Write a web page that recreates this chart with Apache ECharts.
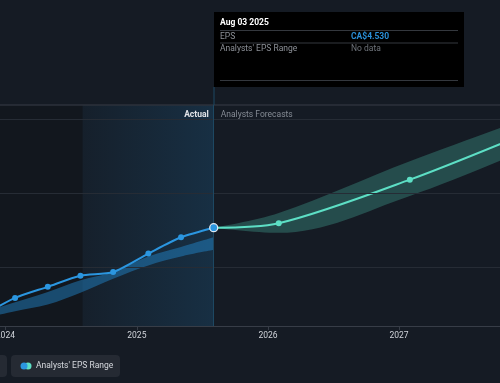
<!DOCTYPE html>
<html><head><meta charset="utf-8">
<script src="https://cdn.jsdelivr.net/npm/echarts@6/dist/echarts.min.js"></script>
<style>html,body{margin:0;padding:0;background:#151b24;overflow:hidden}#c{width:500px;height:383px}</style>
</head><body><div id="c"></div>
<script>
// ---- data ----
const pastDates = ['2023-10-29','2024-01-28','2024-04-28','2024-07-28','2024-10-27','2025-02-02','2025-05-04','2025-08-03'];
const pastEps = [3.34,3.58,3.73,3.88,3.93,4.18,4.40,4.53];
const pastRangeLow = [3.30,3.40,3.49,3.65,3.84,4.02,4.14,4.23];
const pastRangeHigh = [3.38,3.52,3.66,3.82,3.93,4.14,4.27,4.40];
const fcDates = ['2025-08-03','2026-01-31','2027-01-31','2028-01-31'];
const fcEps = [4.53,4.59,5.18,5.89];
const fcLow = [4.53,4.46,4.96,5.67];
const fcHigh = [4.53,4.73,5.43,6.08];
const gridValues = [4,5,6];
const axisMin = '2023-12-17', axisMax = '2027-10-09';
const yMin = 3.2, yMax = 6.19;
const todayDate = '2025-08-03', yearAgoDate = '2024-08-03';
const tipTitle = 'Aug 03 2025', tipEpsLabel = 'EPS', tipEpsValue = 'CA$4.530';
const tipRangeLabel = "Analysts' EPS Range", tipRangeValue = 'No data';
const legendLabel = "Analysts' EPS Range";

const BLUE = '#2b96e0', TEAL = '#5ddfc5', FONT = 'Roboto, sans-serif';
const FS = 8.5;
const chart = echarts.init(document.getElementById('c'), null, {renderer:'canvas'});

const pair = (d, v) => d.map((x, i) => [x, v[i]]);
const diff = (a, b) => a.map((x, i) => +(x - b[i]).toFixed(3));

const pastLine = pastDates.map((d, i) => {
  const last = i === pastDates.length - 1;
  return last ? {value:[d, pastEps[i]], symbolSize:8, itemStyle:{color:BLUE, borderColor:'#dfe8f0', borderWidth:1.3}} : {value:[d, pastEps[i]]};
});
const fcLine = fcDates.map((d, i) => i === 0 ? {value:[d, fcEps[i]], symbolSize:0} : {value:[d, fcEps[i]]});

const option = {
  backgroundColor: '#151b24',
  animation: false,
  grid: {left:0, right:0, top:105, bottom:57, containLabel:false, outerBoundsMode:'none'},
  xAxis: {
    type:'time', min:axisMin, max:axisMax, splitNumber:4,
    axisLine:{show:true, lineStyle:{color:'#373d47', width:1}},
    axisTick:{show:true, length:4, lineStyle:{color:'#373d47'}},
    splitLine:{show:false},
    axisLabel:{color:'#d0d4da', fontSize:FS, fontFamily:FONT, margin:5, hideOverlap:false,
      formatter: v => { const d = new Date(v); return (d.getMonth()===0 && d.getDate()===1) ? String(d.getFullYear()) : ''; }}
  },
  yAxis: {type:'value', min:yMin, max:yMax, show:false, splitLine:{show:false}},
  series: [
    { name:'pastLow', type:'line', stack:'past', data:pair(pastDates, pastRangeLow), smooth:0.35,
      symbol:'none', lineStyle:{opacity:0}, silent:true, z:2,
      markArea:{silent:true, data:[
        [{xAxis:axisMin, itemStyle:{color:'rgba(0,0,0,0.14)'}}, {xAxis:yearAgoDate}],
        [{xAxis:yearAgoDate, itemStyle:{color:new echarts.graphic.LinearGradient(0,0,1,0,[{offset:0,color:'rgba(35,148,223,0.04)'},{offset:1,color:'rgba(35,148,223,0.17)'}])},
          label:{show:true, formatter:'Actual', position:'insideTopRight', distance:5, color:'#e2e4e8', fontWeight:'bold', fontSize:FS, fontFamily:FONT}},
         {xAxis:todayDate}],
        [{xAxis:todayDate, itemStyle:{color:'rgba(0,0,0,0)'},
          label:{show:true, formatter:'Analysts Forecasts', position:'insideTopLeft', distance:5, color:'#858b94', fontSize:FS, fontFamily:FONT,
            padding:[0,0,0,2]}},
         {xAxis:axisMax}]
      ]},
      markLine:{silent:true, symbol:'none', label:{show:false}, lineStyle:{color:'#262c35', type:'solid', width:1},
        data: gridValues.map(v => ({yAxis:v})).concat([{yAxis:yMax, lineStyle:{color:'#2c323b', width:1.5}}, {xAxis:todayDate, lineStyle:{color:'#1d4862', width:1}}])}
    },
    { name:'pastRange', type:'line', stack:'past', data:pair(pastDates, diff(pastRangeHigh, pastRangeLow)), smooth:0.35,
      symbol:'none', lineStyle:{opacity:0}, areaStyle:{color:'rgba(35,148,223,0.42)', opacity:1}, silent:true, z:2 },
    { name:'fcLow', type:'line', stack:'fc', data:pair(fcDates, fcLow), smooth:0.35,
      symbol:'none', lineStyle:{opacity:0}, silent:true, z:2 },
    { name:'fcRange', type:'line', stack:'fc', data:pair(fcDates, diff(fcHigh, fcLow)), smooth:0.35,
      symbol:'none', lineStyle:{opacity:0}, areaStyle:{color:'rgba(88,222,196,0.25)', opacity:1}, silent:true, z:2 },
    { name:'EPS', type:'line', data:pastLine, smooth:0.25, symbol:'circle', symbolSize:6, showSymbol:true,
      lineStyle:{color:BLUE, width:2}, itemStyle:{color:BLUE}, z:5 },
    { name:'Forecast', type:'line', data:fcLine, smooth:0.3, symbol:'circle', symbolSize:6, showSymbol:true,
      lineStyle:{color:TEAL, width:2}, itemStyle:{color:TEAL}, z:4 }
  ]
};
chart.setOption(option);

// decorative overlays: tooltip box, legend button
const px = chart.convertToPixel({gridIndex:0}, [todayDate, yMax]);
const tx = Math.round(px[0]);
const boxL = tx, boxT = 12, boxW = 250, boxH = 75;
chart.setOption({graphic:[
  {type:'line', shape:{x1:tx, y1:boxT+boxH, x2:tx, y2:px[1]}, style:{stroke:'#1d4862', lineWidth:1}, z:10},
  {type:'rect', shape:{x:boxL, y:boxT, width:boxW, height:boxH}, style:{fill:'#000000'}, z:20},
  {type:'text', x:boxL+6, y:boxT+10.5, style:{text:tipTitle, fill:'#ffffff', font:'bold '+FS+'px '+FONT, verticalAlign:'middle'}, z:21},
  {type:'line', shape:{x1:boxL+6, y1:boxT+18.5, x2:boxL+boxW-6, y2:boxT+18.5}, style:{stroke:'#34383e', lineWidth:1}, z:21},
  {type:'text', x:boxL+6, y:boxT+24.5, style:{text:tipEpsLabel, fill:'#8d9198', font:FS+'px '+FONT, verticalAlign:'middle'}, z:21},
  {type:'text', x:boxL+137, y:boxT+24.5, style:{text:tipEpsValue, fill:'#2a8fd8', font:'bold '+FS+'px '+FONT, verticalAlign:'middle'}, z:21},
  {type:'line', shape:{x1:boxL+6, y1:boxT+31, x2:boxL+boxW-6, y2:boxT+31}, style:{stroke:'#34383e', lineWidth:1}, z:21},
  {type:'text', x:boxL+6, y:boxT+37, style:{text:tipRangeLabel, fill:'#8d9198', font:FS+'px '+FONT, verticalAlign:'middle'}, z:21},
  {type:'text', x:boxL+137, y:boxT+37, style:{text:tipRangeValue, fill:'#6f747b', font:FS+'px '+FONT, verticalAlign:'middle'}, z:21},
  {type:'line', shape:{x1:boxL+6, y1:boxT+68.5, x2:boxL+boxW-6, y2:boxT+68.5}, style:{stroke:'#34383e', lineWidth:1}, z:21},
  {type:'rect', shape:{x:-20, y:355, width:27, height:22, r:4}, style:{fill:'#252a33'}, z:10},
  {type:'rect', shape:{x:11, y:355, width:109, height:22, r:4}, style:{fill:'#252a33'}, z:10},
  {type:'circle', shape:{cx:28, cy:366, r:3.5}, style:{fill:TEAL}, z:11},
  {type:'circle', shape:{cx:24, cy:366, r:3.5}, style:{fill:BLUE}, z:12},
  {type:'text', x:36, y:366, style:{text:legendLabel, fill:'#d6d9de', font:FS+'px '+FONT, verticalAlign:'middle'}, z:11}
]});
</script>
</body></html>
